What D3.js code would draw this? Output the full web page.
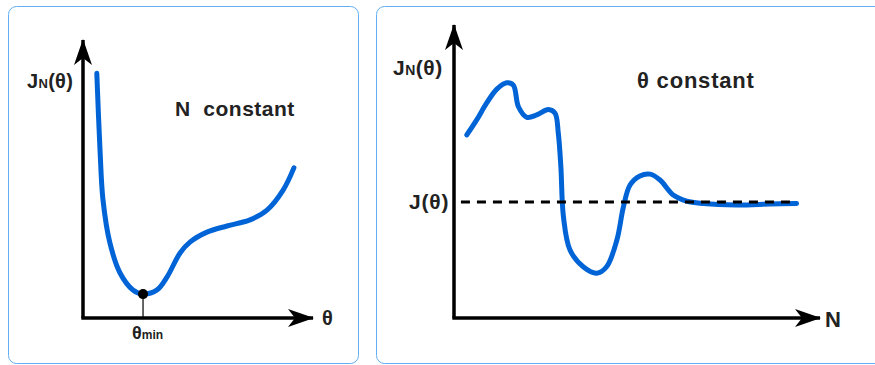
<!DOCTYPE html>
<html>
<head>
<meta charset="utf-8">
<script src="https://cdn.jsdelivr.net/npm/d3@7"></script>
<style>
  body { margin: 0; background: #fff; }
  text { font-family: "Liberation Sans", Arial, sans-serif; font-weight: bold; fill: #222; white-space: pre; }
</style>
</head>
<body>
<svg id="chart" width="875" height="365"></svg>
<script>
// left panel: J_N(theta) for fixed N
const leftTheta = [6, 7.4, 8.7, 11.7, 16.1, 21.7, 26.1, 32.2, 36.5, 42.2, 46.5, 53.9, 62.6, 72.6, 80, 87, 91.7];
const leftJ = [88, 60.4, 42.4, 27, 16.2, 10.1, 8.6, 10.1, 14.7, 23.4, 27.3, 30.9, 33.1, 35.3, 38.8, 46, 54];
const thetaMin = 26.1;
const jAtMin = 8.6;

// right panel: J_N(theta) for fixed theta, as N grows
const rightN = [3.5, 6.2, 8.9, 11.7, 14.4, 16.2, 17.6, 19.9, 22.6, 25.8, 27.6, 28.5, 29.2, 29.9, 31.7, 35.3, 39,
    41.7, 44.5, 46.3, 48.1, 50.8, 53.6, 56.3, 59.9, 63.6, 68.1, 77.2, 86.3, 93.6];
const rightJ = [62.5, 67.6, 73.3, 78.1, 80.3, 79.5, 72.1, 68.5, 69.3, 71.2, 69.9, 63, 51.6, 34.6, 23.2, 17.5, 15.3,
    17.5, 26.6, 38, 45.4, 48.5, 49.1, 47.1, 42, 39.9, 39.1, 38.6, 38.9, 39.1];
const jLimit = 39.6;
const jLimitRange = [1.9, 93.6];

const blue = '#0064d7';
const svg = d3.select('#chart');

svg.append('defs').append('marker')
    .attr('id', 'arrow')
    .attr('markerUnits', 'userSpaceOnUse')
    .attr('viewBox', '-26 -10 28 20')
    .attr('markerWidth', 28)
    .attr('markerHeight', 20)
    .attr('refX', 0)
    .attr('refY', 0)
    .attr('orient', 'auto')
    .append('path')
    .attr('d', 'M1,0 L-25,-9 L-18,0 L-25,9 Z')
    .attr('fill', '#000');

// panel frames
svg.append('rect')
    .attr('x', 8.5).attr('y', 6.5).attr('width', 350).attr('height', 357)
    .attr('rx', 8).attr('fill', 'none').attr('stroke', '#62aef2');
svg.append('rect')
    .attr('x', 376.5).attr('y', 6.5).attr('width', 540).attr('height', 357)
    .attr('rx', 8).attr('fill', 'none').attr('stroke', '#62aef2');

function drawAxes(g, x, y) {
    g.append('line')
        .attr('x1', x(0)).attr('y1', y(0)).attr('x2', x(0)).attr('y2', y(100))
        .attr('stroke', '#000').attr('stroke-width', 3.5)
        .attr('marker-end', 'url(#arrow)');
    g.append('line')
        .attr('x1', x(0) - 1.7).attr('y1', y(0)).attr('x2', x(100)).attr('y2', y(0))
        .attr('stroke', '#000').attr('stroke-width', 3.5)
        .attr('marker-end', 'url(#arrow)');
}

function addLabel(g, x, y, main, sub, rest, size, subSize, spacing) {
    const t = g.append('text').attr('x', x).attr('y', y)
        .style('font-size', size + 'px')
        .style('letter-spacing', (spacing || 0) + 'px');
    t.append('tspan').text(main);
    if (sub) t.append('tspan').style('font-size', subSize + 'px').text(sub);
    if (rest) t.append('tspan').text(rest);
    return t;
}

// ---- left panel
const xL = d3.scaleLinear().domain([0, 100]).range([83, 313]);
const yL = d3.scaleLinear().domain([0, 100]).range([318, 40]);
const left = svg.append('g');

drawAxes(left, xL, yL);

left.append('line')
    .attr('x1', xL(thetaMin)).attr('x2', xL(thetaMin))
    .attr('y1', yL(jAtMin)).attr('y2', yL(0))
    .attr('stroke', '#000').attr('stroke-width', 1.2);

const lineL = d3.line()
    .x((d, i) => xL(leftTheta[i]))
    .y(d => yL(d))
    .curve(d3.curveCatmullRom);

left.append('path')
    .datum(leftJ)
    .attr('d', lineL)
    .attr('fill', 'none')
    .attr('stroke', blue)
    .attr('stroke-width', 5)
    .attr('stroke-linecap', 'round');

left.append('circle')
    .attr('cx', xL(thetaMin)).attr('cy', yL(jAtMin))
    .attr('r', 5).attr('fill', '#000');

addLabel(left, 27, 88, 'J', 'N', '(θ)', 20, 13, 0.3);
addLabel(left, 175, 116, 'N  constant', null, null, 21, null, 0.5);
addLabel(left, 322, 325, 'θ', null, null, 20);
addLabel(left, 132, 339, 'θ', 'min', null, 18, 12);

// ---- right panel
const xR = d3.scaleLinear().domain([0, 100]).range([454, 820]);
const yR = d3.scaleLinear().domain([0, 100]).range([318, 25]);
const right = svg.append('g');

drawAxes(right, xR, yR);

const lineR = d3.line()
    .x((d, i) => xR(rightN[i]))
    .y(d => yR(d))
    .curve(d3.curveCatmullRom);

right.append('path')
    .datum(rightJ)
    .attr('d', lineR)
    .attr('fill', 'none')
    .attr('stroke', blue)
    .attr('stroke-width', 5)
    .attr('stroke-linecap', 'round');

right.append('line')
    .attr('x1', xR(jLimitRange[0])).attr('x2', xR(jLimitRange[1]))
    .attr('y1', yR(jLimit)).attr('y2', yR(jLimit))
    .attr('stroke', '#000').attr('stroke-width', 3)
    .attr('stroke-dasharray', '9,7');

addLabel(right, 393, 75, 'J', 'N', '(θ)', 21, 14, 0.5);
addLabel(right, 637, 88, 'θ constant', null, null, 22, null, 0.8);
addLabel(right, 409, 209, 'J(θ)', null, null, 21, null, 0.8);
addLabel(right, 825, 327, 'N', null, null, 22);
</script>
</body>
</html>
